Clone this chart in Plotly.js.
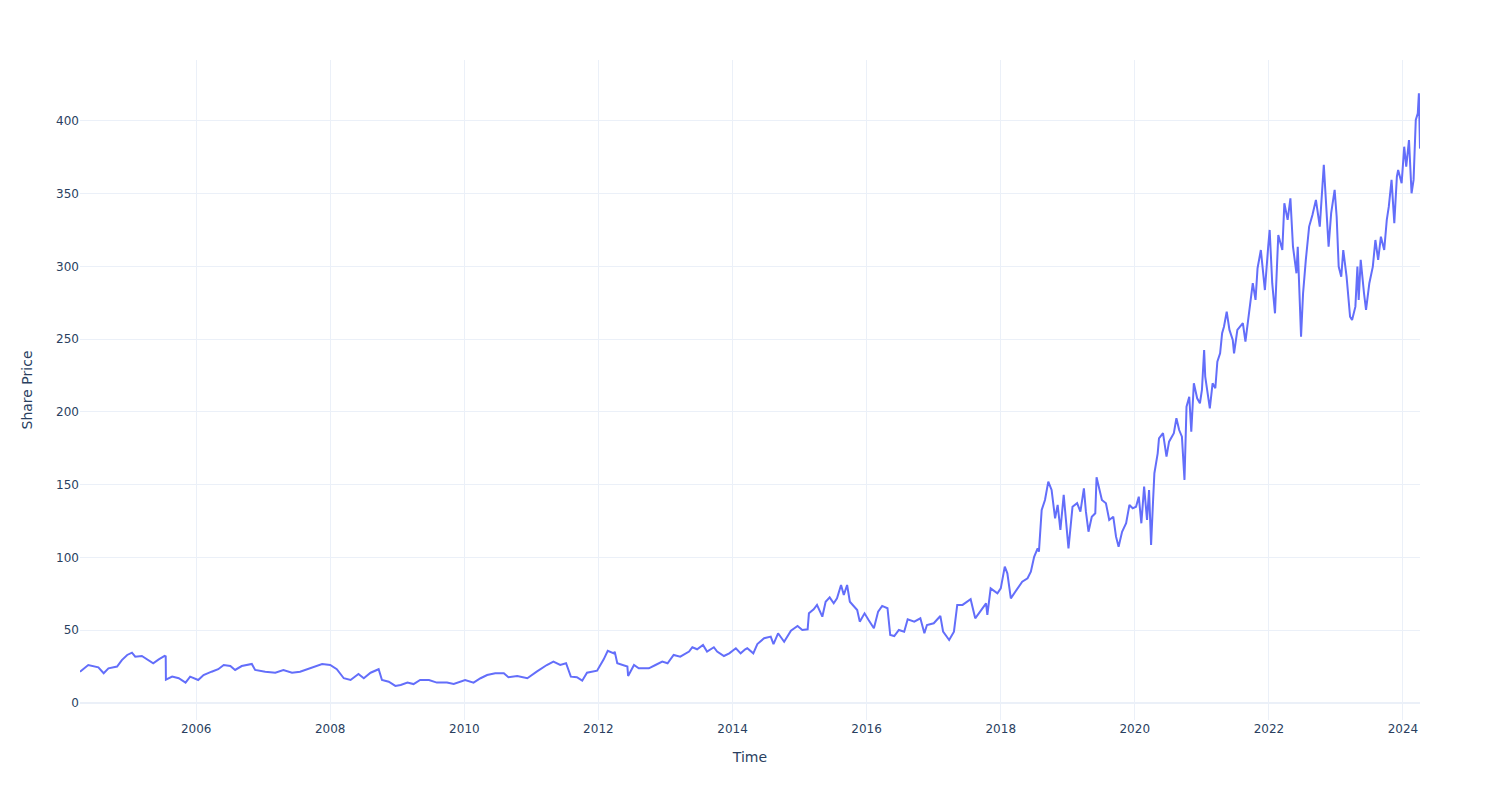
<!DOCTYPE html>
<html>
<head>
<meta charset="utf-8">
<script src="https://cdn.plot.ly/plotly-3.0.1.min.js"></script>
<style>html,body{margin:0;padding:0;background:#fff;}#chart{width:1500px;height:800px;}</style>
</head>
<body>
<div id="chart"></div>
<script>
// Dates and share prices
const dates = [
"2004-04-08","2004-05-23","2004-07-17","2004-08-15","2004-09-10","2004-10-27","2004-11-22","2004-12-21",
"2005-01-16","2005-02-03","2005-03-11","2005-04-17","2005-05-12","2005-06-11","2005-07-13","2005-07-19","2005-07-20","2005-08-23","2005-09-28","2005-11-04","2005-11-29",
"2006-01-12","2006-02-10","2006-03-26","2006-05-01","2006-05-31","2006-07-06","2006-08-01","2006-09-06","2006-10-31","2006-11-18",
"2007-01-12","2007-03-08","2007-04-21","2007-06-07","2007-07-21","2007-10-02","2007-11-18",
"2008-01-01","2008-02-06","2008-03-15","2008-04-21","2008-06-03","2008-07-02","2008-08-08","2008-09-21","2008-10-09","2008-11-15","2008-12-21",
"2009-01-19","2009-02-25","2009-03-30","2009-05-05","2009-06-22","2009-08-04","2009-09-28","2009-11-04",
"2010-01-05","2010-02-20","2010-03-30","2010-05-05","2010-06-18","2010-08-04","2010-08-29","2010-10-16","2010-12-10",
"2011-01-30","2011-03-26","2011-05-01","2011-06-07","2011-07-09","2011-08-04","2011-09-06","2011-10-05","2011-10-31","2011-12-25",
"2012-01-30","2012-02-21","2012-03-26","2012-03-30","2012-04-13","2012-05-09","2012-06-07","2012-06-11","2012-07-13","2012-08-08","2012-10-02","2012-11-07","2012-12-14",
"2013-01-12","2013-02-14","2013-03-22","2013-05-09","2013-05-27","2013-06-22","2013-07-24","2013-08-15","2013-09-21","2013-10-09","2013-11-15","2013-12-14",
"2014-01-19","2014-02-14","2014-03-11","2014-03-22","2014-04-24","2014-05-16","2014-06-22","2014-07-28","2014-08-12","2014-09-06","2014-10-09","2014-11-15","2014-12-21",
"2015-01-16","2015-02-14","2015-02-21","2015-03-19","2015-04-06","2015-05-05","2015-05-23","2015-06-14","2015-07-06","2015-07-24","2015-08-15","2015-08-30","2015-09-17","2015-10-02","2015-10-24","2015-11-11","2015-11-25","2015-12-21",
"2016-01-12","2016-02-10","2016-03-04","2016-03-26","2016-04-24","2016-05-09","2016-05-31","2016-06-25","2016-07-24","2016-08-12","2016-09-17","2016-10-20","2016-11-11","2016-11-25",
"2017-01-01","2017-02-06","2017-02-21","2017-03-26","2017-04-21","2017-05-09","2017-06-07","2017-07-21","2017-08-15","2017-09-14","2017-10-13","2017-10-20","2017-11-07","2017-12-14",
"2018-01-01","2018-01-23","2018-02-06","2018-02-25","2018-03-22","2018-04-28","2018-05-27","2018-06-14","2018-07-02","2018-07-21","2018-07-28","2018-08-12","2018-08-30","2018-09-17","2018-10-05","2018-10-24","2018-11-07","2018-11-22","2018-12-10",
"2019-01-05","2019-01-27","2019-02-21","2019-03-11","2019-03-30","2019-04-10","2019-04-24","2019-05-12","2019-05-31","2019-06-07","2019-06-22","2019-07-06","2019-07-28","2019-08-15","2019-09-06","2019-09-21","2019-10-05","2019-10-24","2019-11-15","2019-12-03","2019-12-21",
"2020-01-08","2020-01-23","2020-02-06","2020-02-21","2020-03-08","2020-03-19","2020-03-30","2020-04-10","2020-04-17","2020-05-05","2020-05-12","2020-06-03","2020-06-22","2020-07-06","2020-08-01","2020-08-15","2020-08-30","2020-09-14","2020-09-28","2020-10-09","2020-10-24","2020-11-04","2020-11-18","2020-12-06","2020-12-21",
"2021-01-01","2021-01-13","2021-01-19","2021-01-31","2021-02-13","2021-02-28","2021-03-15","2021-03-26","2021-04-10","2021-04-21","2021-05-01","2021-05-16","2021-05-31","2021-06-18","2021-06-25","2021-07-13","2021-08-12","2021-08-26","2021-09-17","2021-10-05","2021-10-20","2021-10-31","2021-11-18","2021-12-10","2021-12-28",
"2022-01-05","2022-01-19","2022-02-03","2022-02-21","2022-03-15","2022-03-26","2022-04-13","2022-04-28","2022-05-12","2022-05-31","2022-06-07","2022-06-25","2022-07-06","2022-07-21","2022-08-08","2022-08-26","2022-09-14","2022-10-05","2022-10-20","2022-10-27","2022-11-22","2022-12-06","2022-12-25",
"2023-01-05","2023-01-16","2023-01-30","2023-02-10","2023-02-28","2023-03-19","2023-03-30","2023-04-17","2023-04-28","2023-05-05","2023-05-16","2023-06-03","2023-06-14","2023-07-02","2023-07-21","2023-08-04","2023-08-19","2023-09-03","2023-09-21","2023-10-05","2023-10-16","2023-10-31","2023-11-15","2023-11-29","2023-12-06","2023-12-25",
"2024-01-08","2024-01-19","2024-02-03","2024-02-17","2024-02-28","2024-03-11","2024-03-22","2024-03-28","2024-03-31","2024-04-03"
];
const prices = [
21.5,26.1,24.5,20.4,23.8,25.0,29.5,33.0,
34.6,31.8,32.3,29.5,27.3,30.0,32.3,32.0,16.0,18.1,17.0,14.0,18.1,
15.8,19.2,21.5,23.2,26.1,25.4,22.7,25.4,26.8,22.7,
21.5,20.8,22.7,20.8,21.5,24.5,26.8,
26.1,23.2,17.0,15.8,19.9,17.0,20.8,23.2,15.8,14.6,11.7,
12.4,14.0,13.0,15.8,15.8,14.0,14.0,13.0,
15.8,14.0,17.0,19.2,20.4,20.4,17.7,18.6,17.0,
21.5,26.1,28.4,26.1,27.3,18.1,17.7,15.3,20.8,22.2,
30.0,35.9,34.1,35.3,27.3,26.1,25.0,18.6,26.1,23.8,23.8,26.1,28.4,
27.3,33.0,31.8,35.3,38.3,36.9,39.9,35.3,38.3,35.3,32.3,34.1,
37.6,34.1,36.9,37.6,34.1,40.5,44.5,45.6,40.5,47.9,42.1,49.7,52.9,
50.2,50.6,61.6,64.4,67.4,59.3,69.6,72.6,68.5,71.9,81.1,74.2,81.1,69.6,66.2,63.9,55.9,61.6,
57.0,51.3,62.8,66.7,65.1,46.7,46.0,50.2,49.0,57.5,55.9,58.2,47.9,53.6,
54.8,59.8,49.0,43.3,49.0,67.4,67.4,71.3,58.2,63.9,68.5,60.5,78.8,75.4,
78.8,93.7,89.1,71.9,76.5,83.4,85.7,90.2,100.5,106.3,104.0,132.6,139.5,152.1,146.4,126.9,136.1,118.9,143.0,
106.3,134.9,137.3,131.5,147.5,131.5,117.7,128.0,130.4,155.1,146.4,139.5,137.3,125.8,128.0,114.3,107.4,117.7,123.5,136.1,133.8,
134.9,141.8,123.5,148.7,125.8,146.4,108.6,139.5,157.9,171.6,181.9,185.4,169.3,179.6,185.4,195.7,187.6,183.0,153.3,203.6,210.5,186.5,219.7,209.4,206.0,
215.1,242.6,224.3,215.1,202.5,219.7,216.3,234.6,240.3,254.1,258.6,268.9,256.4,249.5,240.3,256.4,261.0,248.3,270.1,288.5,277.0,298.8,311.3,283.8,313.6,
325.1,288.5,267.8,321.6,311.3,343.4,332.0,346.8,313.6,295.3,313.6,251.8,281.6,304.5,327.4,335.4,345.7,327.4,354.9,369.8,313.6,336.6,352.6,
334.2,299.9,293.0,311.3,293.0,265.5,263.2,272.4,299.9,277.0,304.5,281.6,270.1,288.5,299.9,318.2,304.5,320.5,311.3,332.0,341.1,359.5,329.7,361.7,366.3,357.2,
382.3,368.6,386.9,350.3,359.5,400.7,405.3,419.0,398.4,381.0
];
const yTicks = [0,50,100,150,200,250,300,350,400];

const trace = {
  x: dates, y: prices, type: 'scatter', mode: 'lines',
  line: {color: '#636efa', width: 2}, name: 'Share Price'
};
const grid = '#EBF0F8';
const layout = {
  width: 1500, height: 800,
  margin: {l: 80, r: 80, t: 60, b: 80},
  paper_bgcolor: '#ffffff', plot_bgcolor: '#ffffff',
  font: {family: 'DejaVu Sans, sans-serif', size: 12, color: '#2a3f5f'},
  showlegend: false,
  xaxis: {
    type: 'date', title: {text: 'Time', font: {size: 14}, standoff: 17},
    showgrid: true, gridcolor: grid, zeroline: false,
    dtick: 'M24', tick0: '2006-01-01', tickformat: '%Y', ticks: '', automargin: true
  },
  yaxis: {
    title: {text: 'Share Price', font: {size: 14}, standoff: 20},
    range: [-11.7, 441.9], tickvals: yTicks,
    showgrid: true, gridcolor: grid, zeroline: true, zerolinecolor: grid, zerolinewidth: 2,
    ticks: '', automargin: true
  }
};
Plotly.newPlot('chart', [trace], layout, {displayModeBar: false});
</script>
</body>
</html>
